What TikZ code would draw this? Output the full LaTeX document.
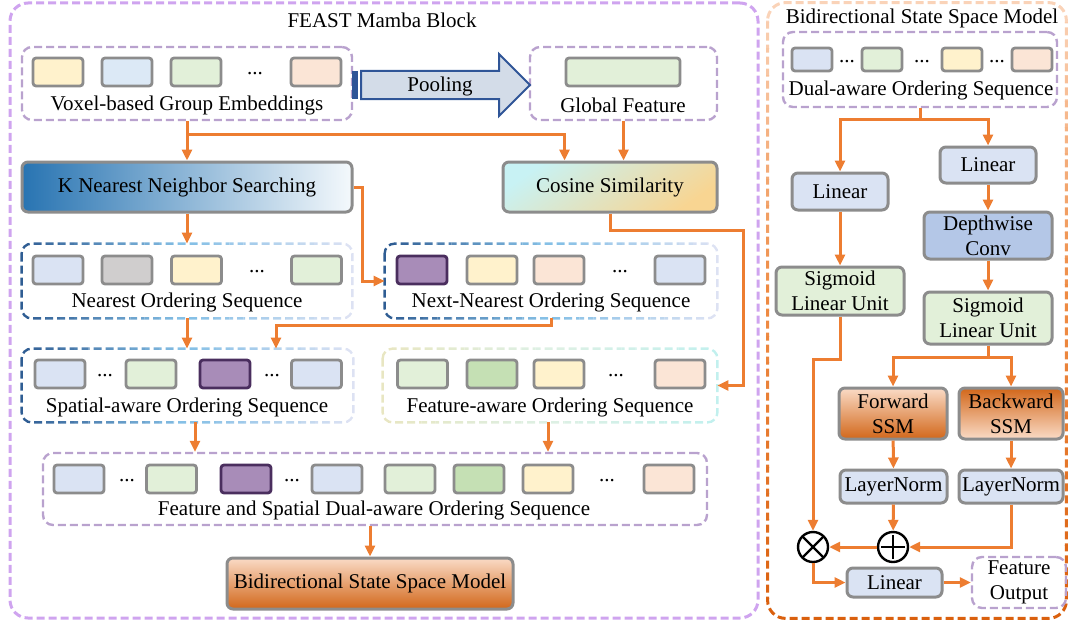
\documentclass[tikz,border=0pt]{standalone}
\usepackage{fontspec}
\setmainfont{Liberation Serif}
\usetikzlibrary{arrows.meta, positioning, calc}

\definecolor{cyel}{HTML}{FFF2CC}
\definecolor{cblu}{HTML}{DCE9F6}
\definecolor{cgrn}{HTML}{E2F0D9}
\definecolor{cpch}{HTML}{FBE5D6}
\definecolor{clav}{HTML}{DAE3F3}
\definecolor{cgry}{HTML}{D0CECE}
\definecolor{cpur}{HTML}{A88CB8}
\definecolor{cpurb}{HTML}{4A2E5E}
\definecolor{cdgr}{HTML}{C5E0B4}
\definecolor{cellb}{HTML}{8C8C8C}
\definecolor{grpc}{HTML}{B9A2CE}
\definecolor{panc}{HTML}{CFA4EF}
\definecolor{orng}{HTML}{ED7D31}
\definecolor{dconv}{HTML}{B4C7E7}
\definecolor{poolb}{HTML}{2F5597}
\definecolor{poolf}{HTML}{D3DCE8}
\definecolor{knA}{HTML}{2874B2}
\definecolor{knB}{HTML}{C4E4F0}
\definecolor{knC}{HTML}{F4F9FC}
\definecolor{cosA}{HTML}{C8F2F4}
\definecolor{cosB}{HTML}{F4F4E8}
\definecolor{cosC}{HTML}{F8D592}
\definecolor{ssmA}{HTML}{FADBC6}
\definecolor{ssmB}{HTML}{F4B183}
\definecolor{ssmC}{HTML}{D2671A}
\definecolor{nsA}{HTML}{2F5D93}
\definecolor{nsB}{HTML}{86C0E6}
\definecolor{nsC}{HTML}{DDE2F3}
\definecolor{fsA}{HTML}{E8E6C2}
\definecolor{fsB}{HTML}{DDF0E4}
\definecolor{fsC}{HTML}{C2F0EE}
\definecolor{rpA}{HTML}{FAD3B8}
\definecolor{rpB}{HTML}{EE8A42}
\definecolor{rpC}{HTML}{DA600E}

% dashed frame of a node, coloured from left to right
\newcommand\hgradframe[5]{%
  \coordinate (gA) at ($(#1.north west)+(-4,-6)$);
  \coordinate (gB) at ($(#1.north east)+(4,-6)$);
  \coordinate (gC) at ($(#1.south west)+(-4,6)$);
  \coordinate (gD) at ($(#1.south east)+(4,6)$);
  \foreach \k in {0,...,23}{
    \ifnum\k<12 \pgfmathsetmacro\pct{100-\k*100/11}\def\cA{#2}\def\cB{#3}%
    \else \pgfmathsetmacro\pct{100-(\k-12)*100/11}\def\cA{#3}\def\cB{#4}\fi
    \begin{scope}
      \clip ($(gA)!{\k/24}!(gB)$) rectangle ($(gC)!{(\k+1)/24}!(gD)$);
      \draw[#5, draw=\cA!\pct!\cB] (#1.north west) rectangle (#1.south east);
    \end{scope}}}
% the same, from top to bottom
\newcommand\vgradframe[5]{%
  \coordinate (gA) at ($(#1.north west)+(-4,-6)$);
  \coordinate (gB) at ($(#1.north east)+(4,-6)$);
  \coordinate (gC) at ($(#1.south west)+(-4,6)$);
  \coordinate (gD) at ($(#1.south east)+(4,6)$);
  \foreach \k in {0,...,23}{
    \ifnum\k<12 \pgfmathsetmacro\pct{100-\k*100/11}\def\cA{#2}\def\cB{#3}%
    \else \pgfmathsetmacro\pct{100-(\k-12)*100/11}\def\cA{#3}\def\cB{#4}\fi
    \begin{scope}
      \clip ($(gA)!{\k/24}!(gC)$) rectangle ($(gB)!{(\k+1)/24}!(gD)$);
      \draw[#5, draw=\cA!\pct!\cB] (#1.north west) rectangle (#1.south east);
    \end{scope}}}

\begin{document}
\begin{tikzpicture}[
    x=0.5pt, y=-0.5pt,
    font=\fontsize{10.5}{12.5}\selectfont,
    >={Triangle[length=5.5pt, width=5pt]},
    panel/.style={dashed, dash pattern=on 4pt off 2pt, line width=1.5pt, rounded corners=9pt},
    grpline/.style={dash pattern=on 4pt off 2pt, line width=1.2pt, rounded corners=5pt},
    grp/.style={draw=grpc, grpline, inner sep=0pt},
    cell/.style={draw=cellb, line width=1.4pt, rounded corners=1.5pt, minimum width=25pt, minimum height=14pt, inner sep=0pt},
    rcell/.style={cell, minimum width=20pt, minimum height=11.5pt},
    purcell/.style={cell, draw=cpurb, fill=cpur},
    blk/.style={draw=cellb, line width=1.5pt, rounded corners=3pt, align=center, inner sep=1pt},
    lbl/.style={inner sep=0pt},
    dots/.style={inner sep=0pt},
    flow/.style={->, draw=orng, line width=1.5pt},
    opc/.style={circle, draw, line width=1.2pt, minimum size=15pt, inner sep=0pt},
  ]
  \useasboundingbox (0,0) rectangle (1068,626);

  % two panels
  \node[draw=panc, panel, minimum width=374pt, minimum height=307.5pt] (feast) at (384,310.5) {};
  \node[lbl] (feastttl) at (382,20) {FEAST Mamba Block};
  \node[minimum width=149pt, minimum height=307.5pt, inner sep=0pt] (bissm) at (917,310.5) {};
  \vgradframe{bissm}{rpA}{rpB}{rpC}{panel}
  \node[lbl] (bissmttl) at (922,18) {Bidirectional State Space Model};

  % voxel embeddings and global feature
  \node[grp, minimum width=165pt, minimum height=36.5pt] (vox) at (187,83.5) {};
  \foreach \x/\c [count=\i] in {58/cyel, 127/cblu, 196/cgrn, 316/cpch}
    \node[cell, fill=\c] (vox\i) at (\x,72) {};
  \node[dots] (voxd) at (255,74) {...};
  \node[lbl] (voxlbl) at (187,105) {Voxel-based Group Embeddings};

  \node[grp, minimum width=93.5pt, minimum height=36.5pt] (glob) at (623.5,83.5) {};
  \node[cell, fill=cgrn, minimum width=57pt] (glob1) at (623,72) {};
  \node[lbl] (globlbl) at (623,105) {Global Feature};

  % pooling arrow
  \fill[poolb] (352,71) rectangle (358,99);
  \draw[draw=poolb, fill=poolf, line width=1pt] (361,71) -- (499,71) -- (499,54)
    -- (530,85) -- (499,116) -- (499,99) -- (361,99) -- cycle;
  \node[lbl] (pool) at (440,86) {Pooling};

  % searching and similarity
  \node[blk, minimum width=165pt, minimum height=25pt, left color=knA, middle color=knB, right color=knC] (knn) at (187,187) {K Nearest Neighbor Searching};
  \node[blk, minimum width=107pt, minimum height=25pt, top color=cosA, middle color=cosB, bottom color=cosC, shading angle=35] (cos) at (610,187) {Cosine Similarity};

  % nearest / next-nearest
  \node[minimum width=165pt, minimum height=37pt, inner sep=0pt] (near) at (187,281) {};
  \hgradframe{near}{nsA}{nsB}{nsC}{grpline}
  \foreach \x/\c [count=\i] in {58/clav, 127/cgry, 196.5/cyel, 316.5/cgrn}
    \node[cell, fill=\c] (near\i) at (\x,270) {};
  \node[dots] (neard) at (257,272) {...};
  \node[lbl] (nearlbl) at (187,302) {Nearest Ordering Sequence};

  \node[minimum width=166pt, minimum height=37pt, inner sep=0pt] (next) at (551,281) {};
  \hgradframe{next}{nsA}{nsB}{nsC}{grpline}
  \node[purcell] (next1) at (422,270) {};
  \foreach \x/\c [count=\i from 2] in {492/cyel, 559/cpch, 680/clav}
    \node[cell, fill=\c] (next\i) at (\x,270) {};
  \node[dots] (nextd) at (620,272) {...};
  \node[lbl] (nextlbl) at (551,302) {Next-Nearest Ordering Sequence};

  % spatial / feature aware
  \node[minimum width=165.5pt, minimum height=36.5pt, inner sep=0pt] (spat) at (187.5,385.5) {};
  \hgradframe{spat}{nsA}{nsB}{nsC}{grpline}
  \node[cell, fill=clav] (spat1) at (60,374) {};
  \node[cell, fill=cgrn] (spat2) at (151,374) {};
  \node[purcell] (spat3) at (225,374) {};
  \node[cell, fill=clav] (spat4) at (316.5,374) {};
  \node[dots] (spatd1) at (105,376) {...};
  \node[dots] (spatd2) at (272,376) {...};
  \node[lbl] (spatlbl) at (187,407) {Spatial-aware Ordering Sequence};

  \node[minimum width=167pt, minimum height=36.5pt, inner sep=0pt] (feat) at (550,385.5) {};
  \hgradframe{feat}{fsA}{fsB}{fsC}{grpline}
  \foreach \x/\c [count=\i] in {422.5/cgrn, 492/cdgr, 559/cyel, 680/cpch}
    \node[cell, fill=\c] (feat\i) at (\x,374) {};
  \node[dots] (featd) at (616,376) {...};
  \node[lbl] (featlbl) at (550,407) {Feature-aware Ordering Sequence};

  % dual-aware sequence and ssm
  \node[grp, minimum width=332pt, minimum height=36pt] (dual) at (375,489) {};
  \foreach \x/\c [count=\i] in {79/clav, 171.5/cgrn, 337/clav, 410/cgrn, 479/cdgr, 548/cyel, 669/cpch}
    \node[cell, fill=\c] (dual\i) at (\x,479) {};
  \node[purcell] (dualp) at (246,479) {};
  \foreach \x [count=\i] in {127, 292, 607}
    \node[dots] (duald\i) at (\x,481) {...};
  \node[lbl] (duallbl) at (374,510) {Feature and Spatial Dual-aware Ordering Sequence};

  \node[blk, minimum width=143pt, minimum height=25.5pt, top color=ssmA, middle color=ssmB, bottom color=ssmC] (ssm) at (370,583.5) {Bidirectional State Space Model};

  % arrows, left panel
  \draw[flow] (vox.south) -- (knn.north);
  \coordinate (vbr) at ($(vox.south)+(0,13)$);
  \coordinate (cin) at ($(cos.north west)+(63,0)$);
  \draw[flow] (vbr) -| (cin);
  \draw[flow] (glob.south) -- (glob.south |- cos.north);
  \draw[flow] (knn.east) -- ++(9,0) |- (next.west);
  \draw[flow] (cos.south) -- ++(0,17) -| ($(feat.east)+(26,0)$) -- (feat.east);
  \draw[flow] (knn.south) -- (near.north);
  \draw[flow] (near.south) -- (near.south |- spat.north);
  \coordinate (sin) at ($(spat.north)+(88.5,0)$);
  \draw[flow] (next.south) -- ++(0,7) -| (sin);
  \coordinate (sout) at ($(spat.south)+(7.5,0)$);
  \draw[flow] (sout) -- (sout |- dual.north);
  \coordinate (fout) at ($(feat.south)+(-2,0)$);
  \draw[flow] (fout) -- (fout |- dual.north);
  \draw[flow] (ssm.north |- dual.south) -- (ssm.north);

  % right panel
  \node[grp, minimum width=137pt, minimum height=37.5pt] (rdual) at (920,69.5) {};
  \foreach \x/\c [count=\i] in {812/clav, 882/cgrn, 962/cyel, 1032/cpch}
    \node[rcell, fill=\c] (rdual\i) at (\x,59.5) {};
  \foreach \x [count=\i] in {847, 922, 997}
    \node[dots] (rduald\i) at (\x,61.5) {...};
  \node[lbl] (rduallbl) at (921,90) {Dual-aware Ordering Sequence};

  \node[blk, fill=clav, minimum width=48pt, minimum height=18.5pt] (lina) at (840,191.5) {Linear};
  \node[blk, fill=clav, minimum width=48pt, minimum height=18pt] (linb) at (988,165) {Linear};
  \node[blk, fill=dconv, minimum width=64pt, minimum height=23.5pt] (conv) at (988,235.5) {Depthwise\\Conv};
  \node[blk, fill=cgrn, minimum width=64pt, minimum height=24pt] (silua) at (840,291) {Sigmoid\\Linear Unit};
  \node[blk, fill=cgrn, minimum width=64pt, minimum height=26pt] (silub) at (988,318) {Sigmoid\\Linear Unit};
  \node[blk, minimum width=54pt, minimum height=25.5pt, top color=ssmA, middle color=ssmB, bottom color=ssmC] (fwd) at (893,413.5) {Forward\\SSM};
  \node[blk, minimum width=52pt, minimum height=25.5pt, top color=ssmC, middle color=ssmB, bottom color=ssmA] (bwd) at (1011,413.5) {Backward\\SSM};
  \node[blk, fill=clav, minimum width=53.5pt, minimum height=16.5pt] (lna) at (893.5,486.5) {LayerNorm};
  \node[blk, fill=clav, minimum width=52pt, minimum height=16.5pt] (lnb) at (1011,486.5) {LayerNorm};
  \node[opc, path picture={\draw[line width=1.2pt]
      ($(path picture bounding box.north)+(0,3)$) -- ($(path picture bounding box.south)+(0,-3)$)
      ($(path picture bounding box.west)+(3,0)$) -- ($(path picture bounding box.east)+(-3,0)$);}] (plus) at (893,547) {};
  \node[opc, path picture={\draw[line width=1.2pt]
      ($(path picture bounding box.north west)+(2,2)$) -- ($(path picture bounding box.south east)+(-2,-2)$)
      ($(path picture bounding box.south west)+(2,-2)$) -- ($(path picture bounding box.north east)+(-2,2)$);}] (times) at (813,547) {};
  \node[blk, fill=clav, minimum width=47.5pt, minimum height=14.5pt] (linc) at (894.5,582.5) {Linear};
  \node[grp, minimum width=47pt, minimum height=25.5pt, align=center] (feato) at (1019,582.5) {Feature\\Output};

  % arrows, right panel
  \draw[flow] (rdual.south) -- ++(0,11) -| (lina.north);
  \draw[flow] (rdual.south) -- ++(0,11) -| (linb.north);
  \draw[flow] (linb) -- (conv);
  \draw[flow] (conv) -- (silub);
  \draw[flow] (lina) -- (silua);
  \draw[flow] (silub.south) -- ++(0,12) -| (fwd.north);
  \draw[flow] (silub.south) -- ++(0,12) -| (bwd.north);
  \draw[flow] (fwd) -- (lna);
  \draw[flow] (bwd) -- (lnb);
  \draw[flow] (lna) -- (plus);
  \draw[flow] (lnb.south) |- (plus.east);
  \draw[flow] (plus) -- (times);
  \draw[flow] (silua.south) -- ++(0,43) -| (times.north);
  \draw[flow] (times.south) |- (linc.west);
  \draw[flow] (linc) -- (feato);
\end{tikzpicture}
\end{document}
